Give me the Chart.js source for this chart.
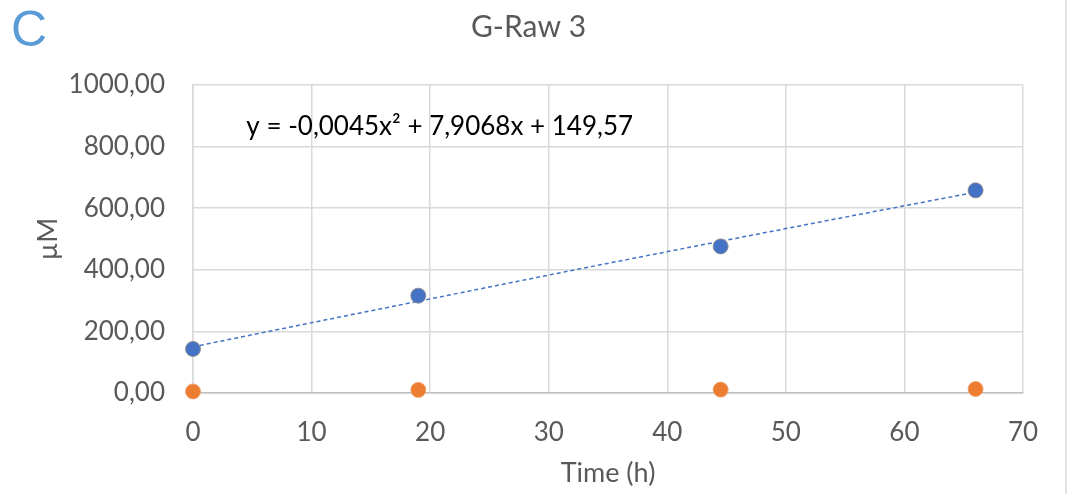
<!DOCTYPE html>
<html>
<head>
<meta charset="utf-8">
<script src="https://cdn.jsdelivr.net/npm/chart.js@4.4.1/dist/chart.umd.min.js"></script>
<style>
  html, body { margin: 0; padding: 0; background: #ffffff; }
  #wrap { width: 1067px; height: 494px; position: relative; }
</style>
</head>
<body>
<div id="wrap"><canvas id="c" width="1067" height="494"></canvas></div>
<script>
// ---- data ----
const timeH      = [0, 19, 44.5, 66];
const seriesBlue = [143, 316, 476, 658];
const seriesOrange = [5, 10, 11, 13];
// polynomial trendline values
const trendX = [0, 11, 22, 33, 44, 55, 66];
const trendY = [150, 236, 321, 406, 489, 571, 652];
const xTickLabels = ['0', '10', '20', '30', '40', '50', '60', '70'];
const yTickLabels = ['0,00', '200,00', '400,00', '600,00', '800,00', '1000,00'];
const chartTitle = 'G-Raw 3';
const panelLetter = 'C';
const equationText = 'y = -0,0045x\u00B2 + 7,9068x + 149,57';
const xTitle = 'Time (h)';
const yTitle = '\u00B5M';

const FONT = 'Lato';
const TXT = '#595959';

const toPts = (xs, ys) => xs.map((x, i) => ({ x: x, y: ys[i] }));

const overlay = {
  id: 'overlay',
  afterDraw(chart) {
    const ctx = chart.ctx;
    ctx.save();
    // panel letter
    ctx.fillStyle = '#5B9BD5';
    ctx.font = '50px "Liberation Sans"';
    ctx.textBaseline = 'alphabetic';
    ctx.textAlign = 'left';
    ctx.fillText(panelLetter, 11, 46);
    // equation label anchored to data coords
    const xs = chart.scales.x, ys = chart.scales.y;
    ctx.fillStyle = '#000000';
    ctx.font = '26px ' + FONT;
    ctx.fillText(equationText, xs.getPixelForValue(4.5), ys.getPixelForValue(837));
    // chart frame right edge
    ctx.strokeStyle = '#d9d9d9';
    ctx.lineWidth = 1.5;
    ctx.beginPath();
    ctx.moveTo(1066, 0);
    ctx.lineTo(1066, 494);
    ctx.stroke();
    ctx.restore();
  }
};

new Chart(document.getElementById('c'), {
  type: 'scatter',
  data: {
    datasets: [
      {
        label: 'trend',
        data: toPts(trendX, trendY),
        showLine: true,
        borderColor: '#4472C4',
        borderWidth: 1.5,
        borderDash: [4, 3],
        pointRadius: 0,
        fill: false,
        order: 3,
        clip: false
      },
      {
        label: 'blue',
        data: toPts(timeH, seriesBlue),
        backgroundColor: '#4472C4',
        borderColor: 'rgba(140,140,140,0.9)',
        borderWidth: 1,
        pointRadius: 7.5,
        order: 1,
        clip: false
      },
      {
        label: 'orange',
        data: toPts(timeH, seriesOrange),
        backgroundColor: '#ED7D31',
        borderColor: 'rgba(240,160,110,0.9)',
        borderWidth: 1,
        pointRadius: 7.5,
        order: 2,
        clip: false
      }
    ]
  },
  options: {
    responsive: false,
    animation: false,
    devicePixelRatio: 1,
    layout: { padding: { left: 0, right: 10, top: 0, bottom: 0 } },
    plugins: {
      legend: { display: false },
      tooltip: { enabled: false },
      title: {
        display: true,
        text: chartTitle,
        color: TXT,
        font: { family: FONT, size: 30, weight: 'normal', lineHeight: 1.2 },
        padding: { top: 9, bottom: 40 }
      }
    },
    scales: {
      x: {
        type: 'linear',
        min: 0, max: 70,
        afterFit(s) { s.height = 101; },
        afterBuildTicks(s) { s.ticks = xTickLabels.map(v => ({ value: Number(v) })); },
        ticks: {
          stepSize: 10,
          color: TXT,
          padding: 24,
          font: { family: FONT, size: 26 },
          callback: (v, i) => xTickLabels[i]
        },
        grid: { color: '#d9d9d9', lineWidth: 1.5, drawTicks: false },
        border: { color: '#bfbfbf', width: 1.5 },
        title: {
          display: true, text: xTitle, color: TXT,
          font: { family: FONT, size: 27, lineHeight: 1.2 },
          padding: { top: 0, bottom: 5 }
        }
      },
      y: {
        type: 'linear',
        min: 0, max: 1000,
        afterFit(s) { s.width = 193; },
        afterBuildTicks(s) { s.ticks = yTickLabels.map((t, i) => ({ value: i * 200 })); },
        ticks: {
          stepSize: 200,
          color: TXT,
          padding: 28,
          font: { family: FONT, size: 26 },
          callback: (v, i) => yTickLabels[i]
        },
        grid: { color: '#d9d9d9', lineWidth: 1.5, drawTicks: false },
        border: { color: '#d9d9d9', width: 1.5 },
        title: {
          display: true, text: yTitle, color: TXT,
          font: { family: FONT, size: 27, lineHeight: 1.2 },
          padding: { top: 32, bottom: 0 }
        }
      },
      spacer: {
        type: 'linear',
        position: 'right',
        min: 0, max: 1,
        afterFit(s) { s.width = 34; },
        ticks: { display: false },
        grid: { display: false, drawTicks: false },
        border: { display: false },
        title: { display: false }
      }
    }
  },
  plugins: [overlay]
});
</script>
</body>
</html>
